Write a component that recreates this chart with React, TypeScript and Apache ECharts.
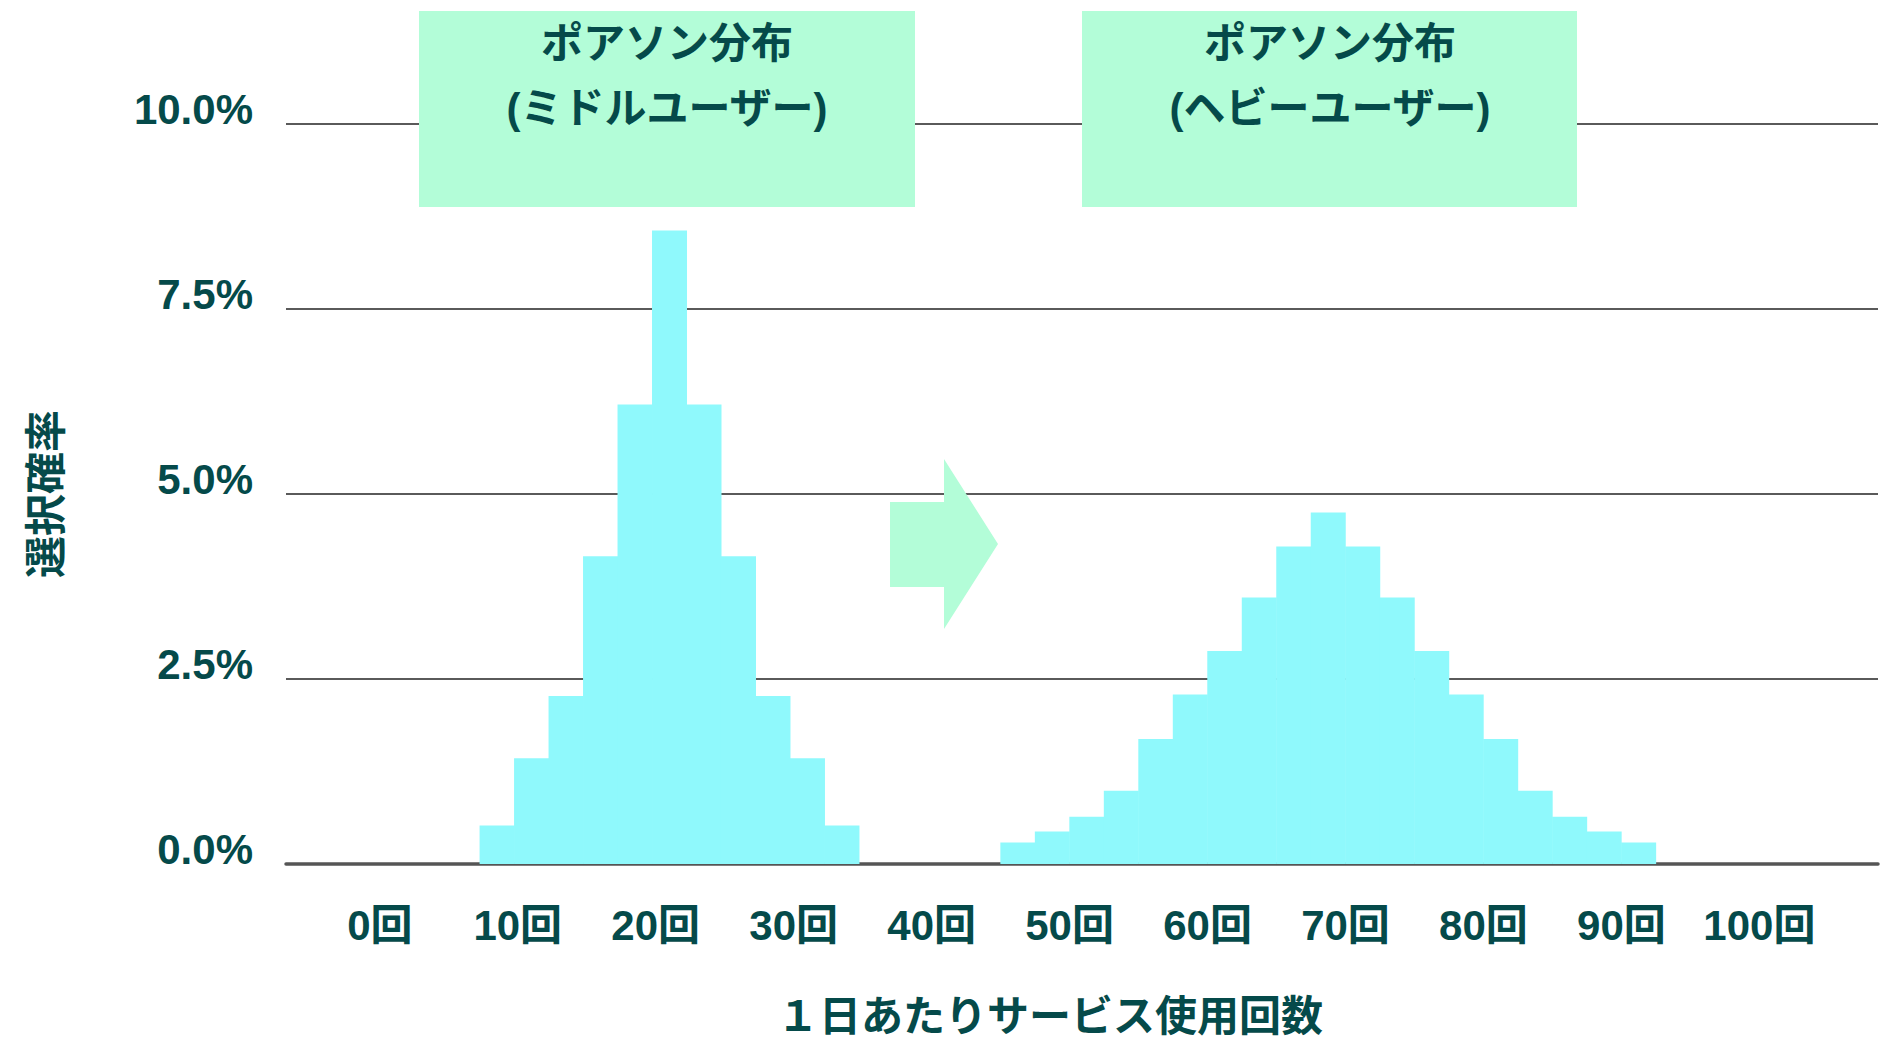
import { useEffect, useRef } from "react";
import * as echarts from "echarts";

// 1日あたりの使用回数（ビン中心）と選択確率（%）
const middleCounts = [8.5, 11, 13.5, 16, 18.5, 21, 23.5, 26, 28.5, 31, 33.5];
const middleRates = [0.52, 1.43, 2.27, 4.16, 6.21, 8.56, 6.21, 4.16, 2.27, 1.43, 0.52];

const heavyCounts = [
  46.25, 48.75, 51.25, 53.75, 56.25, 58.75, 61.25, 63.75, 66.25, 68.75,
  71.25, 73.75, 76.25, 78.75, 81.25, 83.75, 86.25, 88.75, 91.25,
];
const heavyRates = [
  0.29, 0.44, 0.64, 0.99, 1.69, 2.29, 2.88, 3.6, 4.29, 4.75,
  4.29, 3.6, 2.88, 2.29, 1.69, 0.99, 0.64, 0.44, 0.29,
];

const xTickValues = [0, 10, 20, 30, 40, 50, 60, 70, 80, 90, 100];
const yTickValues = [0, 2.5, 5, 7.5, 10];

const boxTitles = ["ポアソン分布\n(ミドルユーザー)", "ポアソン分布\n(ヘビーユーザー)"];

const TEXT = "#054a4a";
const MINT = "#b3fdd8";
const CYAN = "#8ff9fc";
const FONT = '"Liberation Sans", "Noto Sans CJK JP", sans-serif';

export default function App() {
  const ref = useRef<HTMLDivElement>(null);

  useEffect(() => {
    if (!ref.current) return;
    const chart = echarts.init(ref.current, undefined, { renderer: "svg" });

    const barData = [
      ...middleCounts.map((c, i) => [c, middleRates[i]]),
      ...heavyCounts.map((c, i) => [c, heavyRates[i]]),
    ];

    chart.setOption({
      animation: false,
      backgroundColor: "#ffffff",
      textStyle: { fontFamily: FONT },
      grid: {
        left: 286,
        right: 12,
        top: 124,
        bottom: 178,
        containLabel: false,
        outerBoundsMode: "none",
      },
      xAxis: {
        type: "value",
        min: -6.8,
        max: 108.6,
        splitLine: { show: false },
        axisTick: { show: false },
        axisLine: { show: true, lineStyle: { color: "#555555", width: 3.5 } },
        axisLabel: {
          customValues: xTickValues,
          formatter: (v: number) => `${v}回`,
          color: TEXT,
          fontSize: 42,
          fontWeight: "bold",
          fontFamily: FONT,
          margin: 40,
        },
        name: "１日あたりサービス使用回数",
        nameLocation: "middle",
        nameGap: 131,
        nameTextStyle: {
          color: TEXT,
          fontSize: 42,
          fontWeight: "bold",
          fontFamily: FONT,
          padding: [0, 64, 0, 0],
        },
      },
      yAxis: {
        type: "value",
        min: 0,
        max: 10,
        interval: 2.5,
        axisLine: { show: false },
        axisTick: { show: false },
        splitLine: { show: true, lineStyle: { color: "#5a5a5a", width: 2 } },
        axisLabel: {
          customValues: yTickValues,
          formatter: (v: number) => `${v.toFixed(1)}%`,
          color: TEXT,
          fontSize: 42,
          fontWeight: "bold",
          fontFamily: FONT,
          margin: 33,
          verticalAlign: "bottom",
          lineHeight: 30,
        },
        name: "選択確率",
        nameLocation: "middle",
        nameGap: 219,
        nameTextStyle: {
          color: TEXT,
          fontSize: 42,
          fontWeight: "bold",
          fontFamily: FONT,
        },
      },
      series: [
        {
          type: "bar",
          data: barData,
          barWidth: 35,
          itemStyle: { color: CYAN },
          z: 3,
        },
      ],
      graphic: [
        {
          type: "rect",
          z: 100,
          shape: { x: 419, y: 11, width: 496, height: 196 },
          style: { fill: MINT },
        },
        {
          type: "text",
          z: 101,
          x: 667,
          y: 11,
          style: {
            text: boxTitles[0],
            align: "center",
            verticalAlign: "top",
            font: `bold 42px ${FONT}`,
            lineHeight: 65,
            fill: TEXT,
          },
        },
        {
          type: "rect",
          z: 100,
          shape: { x: 1082, y: 11, width: 495, height: 196 },
          style: { fill: MINT },
        },
        {
          type: "text",
          z: 101,
          x: 1330,
          y: 11,
          style: {
            text: boxTitles[1],
            align: "center",
            verticalAlign: "top",
            font: `bold 42px ${FONT}`,
            lineHeight: 65,
            fill: TEXT,
          },
        },
        {
          type: "polygon",
          z: 100,
          shape: {
            points: [
              [890, 502],
              [944, 502],
              [944, 459],
              [998, 544],
              [944, 629],
              [944, 587],
              [890, 587],
            ],
          },
          style: { fill: MINT },
        },
      ],
    });

    return () => chart.dispose();
  }, []);

  return (
    <div
      ref={ref}
      style={{ position: "fixed", left: 0, top: 0, width: 1890, height: 1042 }}
    />
  );
}
